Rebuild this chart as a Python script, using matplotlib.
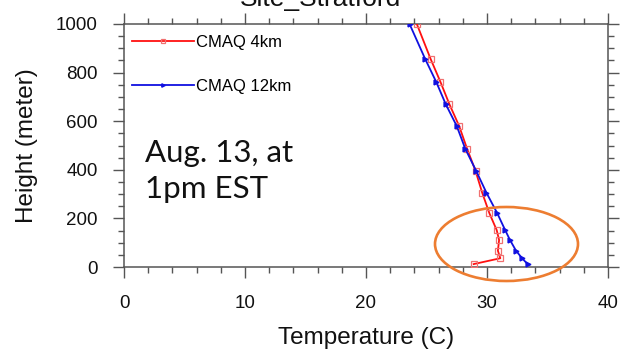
import matplotlib
matplotlib.use('Agg')
import matplotlib.pyplot as plt
from matplotlib.patches import Ellipse
from matplotlib.ticker import MultipleLocator

# model levels (m) and temperatures (C)
height = [12, 36, 67, 111, 152, 221, 306, 396, 487, 580, 669, 762, 855, 1000]
temp_4km = [28.9, 31.1, 30.9, 31.0, 30.8, 30.2, 29.6, 29.05, 28.35, 27.7, 26.9, 26.15, 25.35, 24.2]
temp_12km = [33.35, 32.9, 32.4, 31.9, 31.5, 30.85, 29.95, 29.1, 28.2, 27.5, 26.6, 25.8, 24.9, 23.6]

labels = ['CMAQ 4km', 'CMAQ 12km']
note = 'Aug. 13, at\n1pm EST'
title = 'Site_Stratford'

plt.rcParams['font.family'] = ['Liberation Sans', 'DejaVu Sans']

fig = plt.figure(figsize=(6.21, 3.49), dpi=100)
W, H = 621, 349
ax = fig.add_axes([124 / W, 1 - 267 / H, (608 - 124) / W, (267 - 24) / H])

ax.plot(temp_4km, height, color='#ff1010', lw=1.3, marker='s', ms=4.5,
        mfc='none', mec='#f07070', mew=0.9, label=labels[0], zorder=3)
ax.plot(temp_12km, height, color='#1010e0', lw=1.3, marker='>', ms=3.5,
        mfc='#1010e0', mec='#1010e0', label=labels[1], zorder=4)

ax.set_xlim(0, 40)
ax.set_ylim(0, 1000)
ax.xaxis.set_major_locator(MultipleLocator(10))
ax.xaxis.set_minor_locator(MultipleLocator(2))
ax.yaxis.set_major_locator(MultipleLocator(200))
ax.yaxis.set_minor_locator(MultipleLocator(50))

spine_col = '#555555'
for s in ax.spines.values():
    s.set_color(spine_col)
    s.set_linewidth(1.1)
ax.tick_params(which='both', direction='out', top=True, right=True,
               color=spine_col, width=1.0, labelcolor='#111111')
ax.tick_params(which='major', length=8, labelsize=13.5)
ax.tick_params(axis='x', which='major', pad=12)
ax.tick_params(axis='y', which='major', pad=11)
ax.tick_params(which='minor', length=4)

ax.set_xlabel('Temperature (C)', fontsize=17.5, color='#111111')
ax.set_ylabel('Height (meter)', fontsize=17.5, color='#111111')
ax.xaxis.set_label_coords(0.5, -0.245)
ax.yaxis.set_label_coords(-0.178, 0.5)

leg = ax.legend(loc='upper left', bbox_to_anchor=(0.0165, 0.955), frameon=False,
                fontsize=12, handlelength=3.7, handletextpad=0.15,
                labelspacing=1.75, borderpad=0, borderaxespad=0,
                numpoints=1, markerscale=0.7)

fig.text(145 / W, 1 - 198 / H, note, fontsize=22.5, family=['Lato', 'DejaVu Sans'],
         color='#111111', va='baseline', ha='left', linespacing=1.35)

fig.text(320 / W, 1 - 6 / H, title, fontsize=19, ha='center', va='baseline',
         color='#111111')

ell = Ellipse((506.5 / W, 1 - 244 / H), 143 / W, 74 / H, transform=fig.transFigure,
              fill=False, edgecolor='#ED7D31', lw=1.9, zorder=10)
fig.patches.append(ell)

fig.savefig('out.png', dpi=100)
